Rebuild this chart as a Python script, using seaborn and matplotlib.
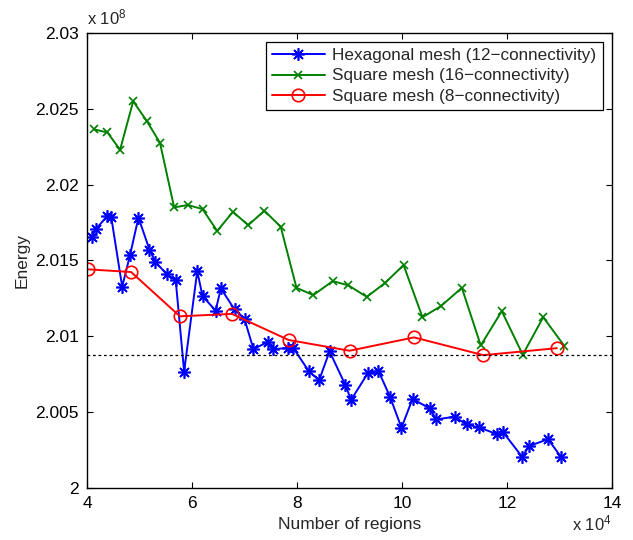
import numpy as np
import pandas as pd
import matplotlib
matplotlib.use("Agg")
import matplotlib.pyplot as plt
import seaborn as sns
from matplotlib.ticker import FuncFormatter, MultipleLocator

# values, x in units of 1e4 regions, energy in units of 1e8
hex_x = [4.09, 4.17, 4.39, 4.46, 4.67, 4.82, 4.98, 5.19, 5.30, 5.52, 5.69, 5.85,
         6.10, 6.20, 6.45, 6.55, 6.81, 7.00, 7.17, 7.44, 7.55, 7.83, 7.93, 8.22,
         8.42, 8.62, 8.92, 9.03, 9.35, 9.55, 9.77, 9.99, 10.20, 10.53, 10.65,
         11.00, 11.23, 11.47, 11.80, 11.93, 12.29, 12.42, 12.78, 13.03]
hex_y = [2.01656, 2.01707, 2.01795, 2.01790, 2.01327, 2.01536, 2.01783, 2.01572,
         2.01492, 2.01409, 2.01369, 2.00768, 2.01430, 2.01265, 2.01170, 2.01316,
         2.01177, 2.01114, 2.00916, 2.00962, 2.00916, 2.00923, 2.00923, 2.00773,
         2.00709, 2.00901, 2.00680, 2.00581, 2.00757, 2.00773, 2.00603, 2.00397,
         2.00587, 2.00525, 2.00452, 2.00470, 2.00419, 2.00399, 2.00356, 2.00366,
         2.00205, 2.00276, 2.00322, 2.00205]

sq16_x = [4.14, 4.39, 4.63, 4.88, 5.14, 5.39, 5.66, 5.92, 6.20, 6.48, 6.78, 7.07,
          7.38, 7.69, 7.99, 8.31, 8.68, 8.98, 9.33, 9.68, 10.03, 10.39, 10.74,
          11.14, 11.50, 11.90, 12.30, 12.69, 13.09]
sq16_y = [2.02364, 2.02344, 2.02230, 2.02550, 2.02419, 2.02276, 2.01850, 2.01866,
          2.01839, 2.01695, 2.01821, 2.01733, 2.01828, 2.01722, 2.01320, 2.01272,
          2.01364, 2.01336, 2.01260, 2.01353, 2.01470, 2.01126, 2.01199, 2.01320,
          2.00940, 2.01166, 2.00879, 2.01126, 2.00938]

sq8_x = [4.01, 4.84, 5.77, 6.76, 7.84, 9.00, 10.23, 11.55, 12.95]
sq8_y = [2.01442, 2.01424, 2.01132, 2.01148, 2.00976, 2.00905, 2.00993, 2.00876, 2.00922]

ref_level = 2.00878

labels = ["Hexagonal mesh (12\u2212connectivity)",
          "Square mesh (16\u2212connectivity)",
          "Square mesh (8\u2212connectivity)"]

sns.set_theme(style="ticks")
plt.rcParams["font.family"] = ["Liberation Sans", "DejaVu Sans"]
plt.rcParams["mathtext.fontset"] = "custom"
plt.rcParams["mathtext.rm"] = "Liberation Sans"

fig = plt.figure(figsize=(6.33, 5.4), dpi=100)
ax = fig.add_axes([87 / 633, 1 - 488 / 540, 525 / 633, 455 / 540])

df_hex = pd.DataFrame({"x": hex_x, "y": hex_y})
df_16 = pd.DataFrame({"x": sq16_x, "y": sq16_y})
df_8 = pd.DataFrame({"x": sq8_x, "y": sq8_y})

sns.lineplot(data=df_hex, x="x", y="y", ax=ax, color="#0000ff", lw=1.4,
             marker=(8, 2, 0), markersize=9, markeredgecolor="#0000ff",
             markeredgewidth=1.2, label=labels[0], sort=False)
sns.lineplot(data=df_16, x="x", y="y", ax=ax, color="#008000", lw=1.4,
             marker="x", markersize=6, markeredgecolor="#008000",
             markeredgewidth=1.2, label=labels[1], sort=False)
sns.lineplot(data=df_8, x="x", y="y", ax=ax, color="#ff0000", lw=1.4,
             marker="o", markersize=9, markeredgecolor="#ff0000",
             markerfacecolor="none", markeredgewidth=1.2, label=labels[2], sort=False)

ax.axhline(ref_level, color="black", lw=0.9, ls=(0, (2.2, 2.2)))

ax.set_xlim(4, 14)
ax.set_ylim(2.0, 2.03)
ax.xaxis.set_major_locator(MultipleLocator(2))
ax.yaxis.set_major_locator(MultipleLocator(0.005))
fmt = FuncFormatter(lambda v, p: "%g" % round(v, 4))
ax.xaxis.set_major_formatter(fmt)
ax.yaxis.set_major_formatter(fmt)
ax.tick_params(direction="in", top=True, right=True, length=4, width=0.8,
               labelsize=12.5, colors="black")
ax.tick_params(axis="x", pad=6)
ax.tick_params(axis="y", pad=6)
for s in ax.spines.values():
    s.set_visible(True)
    s.set_color("black")
    s.set_linewidth(1.0)

ax.set_xlabel("Number of regions", fontsize=12.5, labelpad=4)
ax.set_ylabel("Energy", fontsize=12.5, labelpad=4)

ax.text(0.0, 1.012, r"x $\mathregular{10^8}$", transform=ax.transAxes,
        fontsize=12, ha="left", va="bottom")
ax.text(1.0, -0.056, r"x $\mathregular{10^4}$", transform=ax.transAxes,
        fontsize=12, ha="right", va="top")

leg = ax.legend(loc="upper right", fontsize=12.3, frameon=True, fancybox=False,
                edgecolor="black", framealpha=1, handlelength=3.1,
                labelspacing=0.3, borderpad=0.35, borderaxespad=0.55,
                handletextpad=0.45)
leg.get_frame().set_linewidth(0.9)

fig.savefig("out.png", dpi=100)
